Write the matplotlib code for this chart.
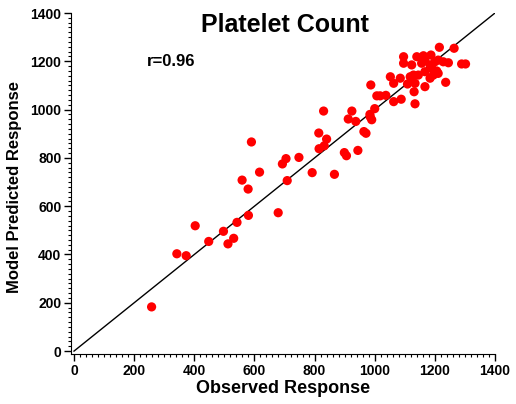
import numpy as np
import matplotlib
matplotlib.use('Agg')
import matplotlib.pyplot as plt
from matplotlib.ticker import MultipleLocator

plt.rcParams['font.family'] = ['Liberation Sans', 'DejaVu Sans']

# observed vs model predicted platelet count
observed = [258, 342, 373, 403, 448, 497, 512, 531, 542, 580, 579, 559, 590, 617,
            679, 693, 705, 709, 748, 792, 814, 815, 832, 840, 830, 866, 899, 906,
            912, 924, 937, 944, 964, 971, 984, 990, 1000, 987, 1007, 1018, 1037,
            1052, 1063, 1085, 1109, 1134, 1184, 1195, 1167, 1236, 1131, 1063, 1088,
            1134, 1096, 1140, 1162, 1187, 1096, 1123, 1156, 1167, 1184, 1200, 1211,
            1228, 1245, 1190, 1206, 1211, 1289, 1302, 1167, 1129, 1145, 1118, 1215,
            1264, 985]
predicted = [183, 403, 395, 519, 454, 496, 444, 467, 533, 562, 671, 708, 866, 741,
             573, 775, 797, 706, 802, 739, 903, 838, 850, 878, 994, 732, 822, 809,
             961, 994, 951, 831, 909, 902, 980, 958, 1004, 1102, 1057, 1057, 1059,
             1136, 1109, 1130, 1106, 1109, 1130, 1143, 1095, 1113, 1074, 1033, 1043,
             1024, 1219, 1219, 1223, 1226, 1192, 1185, 1192, 1203, 1185, 1198, 1205,
             1198, 1194, 1171, 1160, 1150, 1189, 1189, 1157, 1143, 1143, 1136, 1258,
             1254, 970]
r_value = 0.96

fig = plt.figure(figsize=(5.16, 4.04), dpi=100)
ax = fig.add_axes([0.1376, 0.1238, 0.8217, 0.844])

ax.plot([0, 1400], [0, 1400], color='black', lw=1)
ax.scatter(observed, predicted, s=44, color='#ff0000', edgecolors='none', zorder=3)

ax.set_xlim(-10, 1400)
ax.set_ylim(-12, 1400)
ax.xaxis.set_major_locator(MultipleLocator(200))
ax.yaxis.set_major_locator(MultipleLocator(200))
ax.xaxis.set_minor_locator(MultipleLocator(20))
ax.yaxis.set_minor_locator(MultipleLocator(20))
ax.tick_params(which='major', length=5, width=1, labelsize=10, pad=2)
ax.tick_params(which='minor', length=2.5, width=0.8)
for lab in ax.get_xticklabels() + ax.get_yticklabels():
    lab.set_fontweight('bold')
ax.spines['top'].set_visible(False)
ax.spines['right'].set_visible(False)

ax.set_xlabel('Observed Response', fontsize=13, fontweight='bold', labelpad=2)
ax.set_ylabel('Model Predicted Response', fontsize=12, fontweight='bold', labelpad=-1)
ax.yaxis.set_label_coords(-0.115, 0.49)

ax.text(0.505, 0.965, 'Platelet Count', transform=ax.transAxes, ha='center',
        va='center', fontsize=18, fontweight='bold')
ax.text(242, 1201, f'r={r_value}', ha='left', va='center', fontsize=12,
        fontweight='bold')

plt.savefig('out.png', dpi=100)
